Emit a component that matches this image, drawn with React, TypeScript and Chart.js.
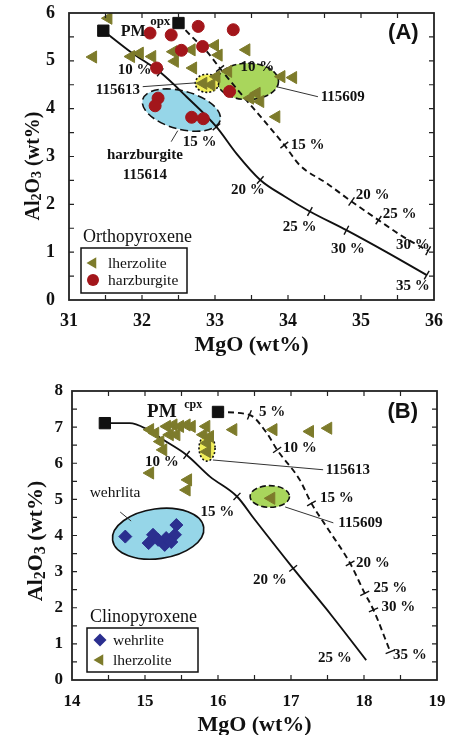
import { useEffect, useRef } from "react";
import { Chart, registerables } from "chart.js";

Chart.register(...registerables);

type Pt = [number, number];
type Label = [string, number, number, string];
type Ellipse = [number, number, number, number, number, string];
type Seg = [number, number, number, number];

// ================= Panel (A) — Orthopyroxene =================
const A_X_TICKS = [31, 32, 33, 34, 35, 36];
const A_Y_TICKS = [0, 1, 2, 3, 4, 5, 6];
const A_LHERZOLITE: Pt[] = [
  [31.54, 5.89], [31.33, 5.08], [31.85, 5.09], [31.97, 5.16], [32.14, 5.09],
  [32.43, 5.19], [32.68, 5.23], [32.45, 4.99], [32.70, 4.85], [33.00, 5.32],
  [33.05, 5.12], [33.43, 5.23], [32.84, 4.53], [32.95, 4.50], [33.18, 4.78],
  [33.02, 4.67], [34.07, 4.65], [33.91, 4.67], [33.57, 4.32], [33.48, 4.22],
  [33.62, 4.15], [33.84, 3.83],
];
const A_HARZBURGITE: Pt[] = [
  [32.11, 5.58], [32.40, 5.54], [32.77, 5.72], [33.25, 5.65], [32.83, 5.30],
  [32.54, 5.22], [32.20, 4.85], [33.20, 4.36], [32.22, 4.22], [32.18, 4.06],
  [32.68, 3.82], [32.84, 3.79],
];
const A_PM: Pt[] = [[31.47, 5.63], [32.50, 5.79]];
const A_MELT_SOLID: Pt[] = [
  [31.47, 5.63], [31.85, 5.18], [32.25, 4.76], [32.61, 4.25], [33.02, 3.62],
  [33.30, 3.05], [33.62, 2.51], [33.95, 2.17], [34.30, 1.85], [34.80, 1.46],
  [35.35, 1.00], [35.90, 0.52],
];
const A_MELT_SOLID_MARKS = [2, 4, 6, 8, 9, 11];
const A_MELT_DASHED: Pt[] = [
  [32.50, 5.79], [32.68, 5.51], [32.89, 5.19], [33.07, 4.84], [33.16, 4.67],
  [33.39, 4.25], [33.66, 3.77], [33.95, 3.24], [34.16, 2.82], [34.53, 2.44],
  [34.87, 2.06], [35.24, 1.67], [35.58, 1.32], [35.92, 1.03],
];
const A_MELT_DASHED_MARKS = [3, 7, 10, 11, 13];
const A_ELLIPSES: Ellipse[] = [
  [32.54, 3.97, 0.55, 0.40, 15, "cyanDash"],
  [33.45, 4.57, 0.42, 0.38, 0, "green"],
  [32.89, 4.53, 0.16, 0.19, 0, "yellow"],
];
const A_LEADERS: Seg[] = [
  [32.01, 4.46, 32.74, 4.54],
  [32.49, 3.54, 32.40, 3.31],
  [33.84, 4.46, 34.41, 4.25],
];
const A_LABELS: Label[] = [
  ["PM", 31.88, 5.61, "pm"], ["opx", 32.25, 5.82, "sup"], ["(A)", 35.58, 5.59, "panel"],
  ["10 %", 31.90, 4.81, "pct"], ["115613", 31.67, 4.39, "id"], ["15 %", 32.79, 3.31, "pct"],
  ["harzburgite", 32.04, 3.03, "id"], ["115614", 32.04, 2.62, "id"],
  ["10 %", 33.58, 4.87, "pct"], ["115609", 34.75, 4.25, "id"], ["15 %", 34.27, 3.24, "pct"],
  ["20 %", 33.45, 2.30, "pct"], ["20 %", 35.16, 2.20, "pct"], ["25 %", 35.53, 1.80, "pct"],
  ["25 %", 34.16, 1.53, "pct"], ["30 %", 34.82, 1.07, "pct"], ["30 %", 35.71, 1.15, "pct"],
  ["35 %", 35.71, 0.29, "pct"],
];
const A_LEGEND_TITLE = "Orthopyroxene";
const A_LEGEND_ITEMS: [string, string][] = [["lherzolite", "triangle"], ["harzburgite", "circle"]];

// ================= Panel (B) — Clinopyroxene =================
const B_X_TICKS = [14, 15, 16, 17, 18, 19];
const B_Y_TICKS = [0, 1, 2, 3, 4, 5, 6, 7, 8];
const B_LHERZOLITE: Pt[] = [
  [15.07, 6.93], [15.14, 6.83], [15.30, 7.02], [15.39, 7.06], [15.48, 7.02],
  [15.57, 7.06], [15.64, 7.02], [15.34, 6.79], [15.43, 6.79], [15.21, 6.60],
  [15.25, 6.37], [15.80, 6.79], [15.89, 6.74], [15.85, 6.56], [15.85, 6.32],
  [15.84, 7.02], [16.21, 6.93], [16.76, 6.93], [17.26, 6.88], [17.51, 6.97],
  [15.07, 5.73], [15.59, 5.54], [15.57, 5.26], [16.73, 5.03],
];
const B_WEHRLITE: Pt[] = [
  [14.73, 3.97], [15.05, 3.79], [15.11, 4.02], [15.27, 3.74], [15.29, 3.93],
  [15.41, 4.02], [15.43, 4.29], [15.18, 3.88], [15.36, 3.82],
];
const B_PM: Pt[] = [[14.45, 7.11], [16.00, 7.42]];
const B_MELT_SOLID: Pt[] = [
  [14.45, 7.11], [14.79, 7.11], [15.02, 6.95], [15.25, 6.65], [15.57, 6.23],
  [15.89, 5.63], [16.26, 5.08], [16.50, 4.45], [17.03, 3.09], [17.55, 1.80],
  [18.03, 0.55],
];
const B_MELT_SOLID_MARKS = [4, 6, 8];
const B_MELT_DASHED: Pt[] = [
  [16.00, 7.42], [16.43, 7.34], [16.67, 6.83], [16.81, 6.37], [17.12, 5.54],
  [17.28, 4.89], [17.50, 4.20], [17.81, 3.23], [18.01, 2.40], [18.13, 1.94],
  [18.36, 0.78],
];
const B_MELT_DASHED_MARKS = [1, 3, 5, 7, 8, 9, 10];
const B_ELLIPSES: Ellipse[] = [
  [15.18, 4.05, 0.63, 0.69, -8, "cyanSolid"],
  [15.85, 6.42, 0.11, 0.36, 0, "yellow"],
  [16.71, 5.08, 0.27, 0.30, 0, "green"],
];
const B_LEADERS: Seg[] = [
  [14.66, 4.65, 14.81, 4.40],
  [15.93, 6.09, 17.44, 5.82],
  [16.92, 4.79, 17.58, 4.35],
];
const B_LABELS: Label[] = [
  ["PM", 15.23, 7.42, "pmB"], ["cpx", 15.66, 7.62, "supB"], ["(B)", 18.53, 7.42, "panel"],
  ["5 %", 16.74, 7.42, "pct"], ["10 %", 17.12, 6.43, "pct"], ["115613", 17.78, 5.82, "id"],
  ["15 %", 17.63, 5.04, "pct"], ["115609", 17.95, 4.35, "id"], ["10 %", 15.23, 6.04, "pct"],
  ["15 %", 15.99, 4.65, "pct"], ["wehrlita", 14.59, 5.18, "note"], ["20 %", 16.71, 2.77, "pct"],
  ["20 %", 18.12, 3.24, "pct"], ["25 %", 18.36, 2.55, "pct"], ["30 %", 18.47, 2.02, "pct"],
  ["25 %", 17.60, 0.61, "pct"], ["35 %", 18.63, 0.69, "pct"],
];
const B_LEGEND_TITLE = "Clinopyroxene";
const B_LEGEND_ITEMS: [string, string][] = [["wehrlite", "diamond"], ["lherzolite", "triangle"]];

const X_TITLE = "MgO (wt%)";
const Y_TITLE_PARTS: [string, boolean][] = [["Al", false], ["2", true], ["O", false], ["3", true], [" (wt%)", false]];
const MINOR_STEP = 0.5;

// ================= styles =================
const SERIF = "'Liberation Serif', 'Times New Roman', serif";
const SANS = "'Liberation Sans', Arial, sans-serif";
const INK = "#111111";
const OLIVE = "#7d7b2b";
const RED = "#a3161b";
const NAVY = "#2b2f8f";

const MARKERS: Record<string, { style: string; rot: number; r: number; color: string }> = {
  triangle: { style: "triangle", rot: 270, r: 7, color: OLIVE },
  circle: { style: "circle", rot: 0, r: 6, color: RED },
  diamond: { style: "rectRot", rot: 0, r: 6.5, color: NAVY },
};

const ELLIPSE_STYLES: Record<string, { fill: string; dash: number[] }> = {
  cyanDash: { fill: "#96d6e8", dash: [8, 4] },
  cyanSolid: { fill: "#96d6e8", dash: [] },
  green: { fill: "#a9d65c", dash: [6, 3] },
  yellow: { fill: "#f1ee5a", dash: [2, 2] },
};

const LABEL_FONTS: Record<string, string> = {
  pct: `bold 15px ${SERIF}`,
  id: `bold 15px ${SERIF}`,
  pm: `bold 16px ${SERIF}`,
  sup: `bold 13px ${SERIF}`,
  pmB: `bold 19px ${SERIF}`,
  supB: `bold 12px ${SERIF}`,
  panel: `bold 22px ${SANS}`,
  note: `15.5px ${SERIF}`,
};

interface Panel {
  xTicks: number[];
  yTicks: number[];
  area: { left: number; right: number; top: number; bottom: number; height: number };
  tickFont: number;
  xPad: number;
  yPad: number;
  yTitle: { x: number; y: number; size: number };
  scatter: { data: Pt[]; marker: string }[];
  pm: Pt[];
  curves: { data: Pt[]; marks: number[]; dashed: boolean }[];
  ellipses: Ellipse[];
  leaders: Seg[];
  labels: Label[];
  legend: {
    title: string;
    items: [string, string][];
    dx: number; dy: number; w: number; h: number;
    titleDx: number; titleDy: number; rows: number[]; markerDx: number; textDx: number;
  };
}

const PANEL_A: Panel = {
  xTicks: A_X_TICKS,
  yTicks: A_Y_TICKS,
  area: { left: 69, right: 434, top: 13, bottom: 300, height: 360 },
  tickFont: 18,
  xPad: 11,
  yPad: 14,
  yTitle: { x: 32, y: 166, size: 20 },
  scatter: [
    { data: A_HARZBURGITE, marker: "circle" },
    { data: A_LHERZOLITE, marker: "triangle" },
  ],
  pm: A_PM,
  curves: [
    { data: A_MELT_SOLID, marks: A_MELT_SOLID_MARKS, dashed: false },
    { data: A_MELT_DASHED, marks: A_MELT_DASHED_MARKS, dashed: true },
  ],
  ellipses: A_ELLIPSES,
  leaders: A_LEADERS,
  labels: A_LABELS,
  legend: {
    title: A_LEGEND_TITLE, items: A_LEGEND_ITEMS,
    dx: 12, dy: 52, w: 106, h: 45, titleDx: 14, titleDy: 63, rows: [15, 32], markerDx: 12, textDx: 27,
  },
};

const PANEL_B: Panel = {
  xTicks: B_X_TICKS,
  yTicks: B_Y_TICKS,
  area: { left: 72, right: 437, top: 26, bottom: 315, height: 375 },
  tickFont: 17,
  xPad: 11,
  yPad: 9,
  yTitle: { x: 35, y: 176, size: 22 },
  scatter: [
    { data: B_WEHRLITE, marker: "diamond" },
    { data: B_LHERZOLITE, marker: "triangle" },
  ],
  pm: B_PM,
  curves: [
    { data: B_MELT_SOLID, marks: B_MELT_SOLID_MARKS, dashed: false },
    { data: B_MELT_DASHED, marks: B_MELT_DASHED_MARKS, dashed: true },
  ],
  ellipses: B_ELLIPSES,
  leaders: B_LEADERS,
  labels: B_LABELS,
  legend: {
    title: B_LEGEND_TITLE, items: B_LEGEND_ITEMS,
    dx: 15, dy: 52, w: 111, h: 44, titleDx: 18, titleDy: 63, rows: [12, 32], markerDx: 13, textDx: 26,
  },
};

function drawMarker(ctx: CanvasRenderingContext2D, kind: string, x: number, y: number) {
  const m = MARKERS[kind];
  ctx.save();
  ctx.fillStyle = m.color;
  ctx.beginPath();
  if (kind === "triangle") {
    const r = 6.5;
    ctx.moveTo(x - r, y);
    ctx.lineTo(x + r * 0.5, y - r * 0.866);
    ctx.lineTo(x + r * 0.5, y + r * 0.866);
    ctx.closePath();
  } else if (kind === "circle") {
    ctx.arc(x, y, 6, 0, Math.PI * 2);
  } else {
    const r = 6.5;
    ctx.moveTo(x, y - r);
    ctx.lineTo(x + r, y);
    ctx.lineTo(x, y + r);
    ctx.lineTo(x - r, y);
    ctx.closePath();
  }
  ctx.fill();
  ctx.restore();
}

function makePlugin(p: Panel) {
  return {
    id: "petroDecor",
    beforeDatasetsDraw(chart: any) {
      const ctx: CanvasRenderingContext2D = chart.ctx;
      const xs = chart.scales.x;
      const ys = chart.scales.y;
      ctx.save();
      for (const [cx, cy, rx, ry, rot, kind] of p.ellipses) {
        const st = ELLIPSE_STYLES[kind];
        const px = xs.getPixelForValue(cx);
        const py = ys.getPixelForValue(cy);
        const rpx = Math.abs(xs.getPixelForValue(cx + rx) - px);
        const rpy = Math.abs(ys.getPixelForValue(cy + ry) - py);
        ctx.beginPath();
        ctx.ellipse(px, py, rpx, rpy, (rot * Math.PI) / 180, 0, Math.PI * 2);
        ctx.fillStyle = st.fill;
        ctx.fill();
        ctx.setLineDash(st.dash);
        ctx.lineWidth = 1.6;
        ctx.strokeStyle = INK;
        ctx.stroke();
      }
      ctx.setLineDash([]);
      ctx.lineWidth = 1;
      ctx.strokeStyle = "#333";
      for (const [x1, y1, x2, y2] of p.leaders) {
        ctx.beginPath();
        ctx.moveTo(xs.getPixelForValue(x1), ys.getPixelForValue(y1));
        ctx.lineTo(xs.getPixelForValue(x2), ys.getPixelForValue(y2));
        ctx.stroke();
      }
      ctx.restore();
    },
    afterDatasetsDraw(chart: any) {
      const ctx: CanvasRenderingContext2D = chart.ctx;
      const xs = chart.scales.x;
      const ys = chart.scales.y;
      const { left, right, top, bottom } = chart.chartArea;
      ctx.save();
      // annotation labels
      ctx.textAlign = "center";
      ctx.textBaseline = "middle";
      ctx.fillStyle = INK;
      for (const [text, x, y, kind] of p.labels) {
        ctx.font = LABEL_FONTS[kind];
        ctx.fillText(text, xs.getPixelForValue(x), ys.getPixelForValue(y));
      }
      // legend
      const lg = p.legend;
      const bx = left + lg.dx;
      const by = bottom - lg.dy;
      ctx.textAlign = "left";
      ctx.font = `18px ${SERIF}`;
      ctx.fillText(lg.title, left + lg.titleDx, bottom - lg.titleDy);
      ctx.fillStyle = "#ffffff";
      ctx.fillRect(bx, by, lg.w, lg.h);
      ctx.lineWidth = 1.5;
      ctx.strokeStyle = INK;
      ctx.strokeRect(bx, by, lg.w, lg.h);
      lg.items.forEach(([name, kind], i) => {
        const yy = by + lg.rows[i];
        drawMarker(ctx, kind, bx + lg.markerDx, yy);
        ctx.fillStyle = INK;
        ctx.font = `15.5px ${SERIF}`;
        ctx.fillText(name, bx + lg.textDx, yy + 1);
      });
      // frame and inward ticks
      ctx.strokeStyle = "#222";
      ctx.lineWidth = 1.8;
      ctx.strokeRect(left, top, right - left, bottom - top);
      ctx.lineWidth = 1.2;
      const T = 5;
      const x0 = p.xTicks[0], x1 = p.xTicks[p.xTicks.length - 1];
      const y0 = p.yTicks[0], y1 = p.yTicks[p.yTicks.length - 1];
      ctx.beginPath();
      for (let v = x0 + MINOR_STEP; v < x1 - 1e-6; v += MINOR_STEP) {
        const px = xs.getPixelForValue(v);
        ctx.moveTo(px, bottom); ctx.lineTo(px, bottom - T);
        ctx.moveTo(px, top); ctx.lineTo(px, top + T);
      }
      for (let v = y0 + MINOR_STEP; v < y1 - 1e-6; v += MINOR_STEP) {
        const py = ys.getPixelForValue(v);
        ctx.moveTo(left, py); ctx.lineTo(left + T, py);
        ctx.moveTo(right, py); ctx.lineTo(right - T, py);
      }
      ctx.stroke();
      // y title with subscripts
      const { x: tx, y: ty, size } = p.yTitle;
      const big = `bold ${size}px ${SERIF}`;
      const small = `bold ${Math.round(size * 0.72)}px ${SERIF}`;
      ctx.translate(tx, ty);
      ctx.rotate(-Math.PI / 2);
      let w = 0;
      for (const [t, sub] of Y_TITLE_PARTS) {
        ctx.font = sub ? small : big;
        w += ctx.measureText(t).width;
      }
      let cx = -w / 2;
      ctx.textBaseline = "alphabetic";
      ctx.fillStyle = INK;
      const base = size * 0.34;
      for (const [t, sub] of Y_TITLE_PARTS) {
        ctx.font = sub ? small : big;
        ctx.fillText(t, cx, sub ? base + size * 0.1 : base);
        cx += ctx.measureText(t).width;
      }
      ctx.restore();
    },
  };
}

function toXY(pts: Pt[]) {
  return pts.map(([x, y]) => ({ x, y }));
}

function makeChart(canvas: HTMLCanvasElement, p: Panel) {
  const datasets: any[] = [];
  for (const s of p.scatter) {
    const m = MARKERS[s.marker];
    datasets.push({
      data: toXY(s.data),
      pointStyle: m.style,
      pointRotation: m.rot,
      pointRadius: m.r,
      backgroundColor: m.color,
      borderColor: m.color,
      borderWidth: 1,
      showLine: false,
    });
  }
  datasets.push({
    data: toXY(p.pm),
    pointStyle: "rect",
    pointRadius: 8,
    backgroundColor: INK,
    borderColor: INK,
    borderWidth: 1,
    showLine: false,
  });
  for (const c of p.curves) {
    datasets.push({
      data: toXY(c.data),
      showLine: true,
      borderColor: INK,
      borderWidth: 1.9,
      borderDash: c.dashed ? [6, 4] : [],
      cubicInterpolationMode: "monotone",
      fill: false,
      pointRadius: c.data.map((_, i) => (c.marks.includes(i) ? 5 : 0)),
      pointStyle: "line",
      pointBorderColor: INK,
      pointBorderWidth: 1.4,
      pointBackgroundColor: INK,
      pointRotation: (ctx: any) => {
        if (ctx.dataIndex === undefined) return 0;
        const d = ctx.dataset.data;
        const i = ctx.dataIndex;
        const a = d[Math.max(0, i - 1)];
        const b = d[Math.min(d.length - 1, i + 1)];
        const xs = ctx.chart.scales.x;
        const ys = ctx.chart.scales.y;
        if (!xs || !ys) return 0;
        const dx = xs.getPixelForValue(b.x) - xs.getPixelForValue(a.x);
        const dy = ys.getPixelForValue(b.y) - ys.getPixelForValue(a.y);
        return (Math.atan2(dy, dx) * 180) / Math.PI + 90;
      },
    });
  }

  const tickFont = { family: SERIF, size: p.tickFont, weight: "bold" as const };
  return new Chart(canvas, {
    type: "scatter",
    data: { datasets },
    options: {
      animation: false,
      responsive: false,
      events: [],
      layout: { padding: { left: 0, top: p.area.top, right: 450 - p.area.right, bottom: 0 } },
      plugins: { legend: { display: false }, tooltip: { enabled: false } },
      scales: {
        x: {
          type: "linear",
          min: p.xTicks[0],
          max: p.xTicks[p.xTicks.length - 1],
          afterFit: (s: any) => {
            s.height = p.area.height - p.area.bottom;
            s.paddingLeft = 0;
            s.paddingRight = 0;
          },
          grid: { display: false, drawTicks: false },
          border: { display: false },
          ticks: { stepSize: 1, padding: p.xPad, color: INK, font: tickFont, maxRotation: 0, autoSkip: false },
          title: {
            display: true, text: X_TITLE, color: INK,
            font: { family: SERIF, size: 22, weight: "bold" }, padding: { top: 0, bottom: 1 },
          },
        },
        y: {
          type: "linear",
          min: p.yTicks[0],
          max: p.yTicks[p.yTicks.length - 1],
          afterFit: (s: any) => {
            s.width = p.area.left;
            s.paddingTop = 0;
            s.paddingBottom = 0;
          },
          grid: { display: false, drawTicks: false },
          border: { display: false },
          ticks: { stepSize: 1, padding: p.yPad, color: INK, font: tickFont },
        },
      },
    } as any,
    plugins: [makePlugin(p)],
  });
}

export default function App() {
  const refA = useRef<HTMLCanvasElement>(null);
  const refB = useRef<HTMLCanvasElement>(null);
  useEffect(() => {
    const a = makeChart(refA.current!, PANEL_A);
    const b = makeChart(refB.current!, PANEL_B);
    return () => {
      a.destroy();
      b.destroy();
    };
  }, []);
  return (
    <div style={{ position: "absolute", left: 0, top: 0, width: 450, height: 735, overflow: "hidden", background: "#fff" }}>
      <canvas ref={refA} width={450} height={360} style={{ position: "absolute", left: 0, top: 0, width: 450, height: 360 }} />
      <canvas ref={refB} width={450} height={375} style={{ position: "absolute", left: 0, top: 365, width: 450, height: 375 }} />
    </div>
  );
}
